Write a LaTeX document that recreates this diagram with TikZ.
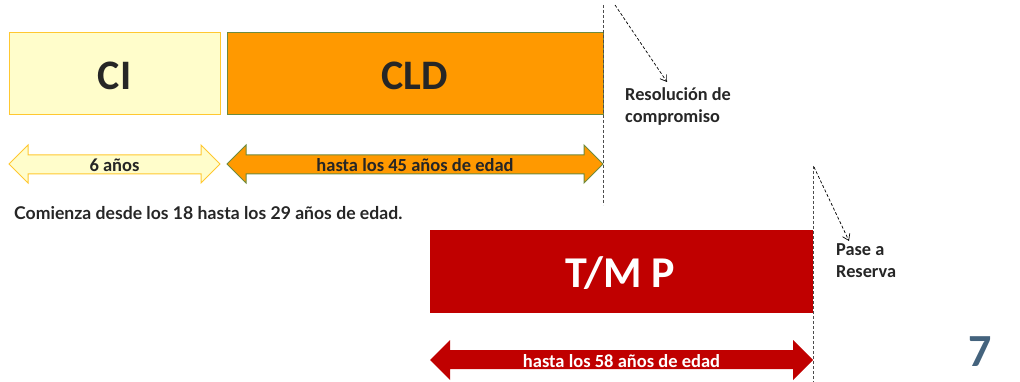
\documentclass[tikz,border=0pt]{standalone}
\usepackage{fontspec}
\setmainfont{Carlito}
\newfontfamily\latofont{Lato}
\usetikzlibrary{arrows.meta}
\definecolor{ciFill}{HTML}{FFFDCB}
\definecolor{ciLine}{HTML}{FFC830}
\definecolor{cldFill}{HTML}{FF9900}
\definecolor{cldLine}{HTML}{6E8B3D}
\definecolor{tmpFill}{HTML}{C00000}
\definecolor{txt}{HTML}{262626}
\definecolor{sevenc}{HTML}{44637D}
\tikzset{
  bigtxt/.style={font=\fontsize{42}{44}\selectfont\bfseries, text=txt},
  lbl/.style={font=\fontsize{18.5}{19}\selectfont\bfseries, text=txt},
  sidetxt/.style={font=\fontsize{18.3}{22}\selectfont\bfseries, text=txt, align=left, anchor=north west, inner sep=0pt},
  vdash/.style={draw=black!70, dash pattern=on 3pt off 2pt, line width=0.9pt},
  pointer/.style={draw=black, dash pattern=on 3pt off 2pt, line width=0.7pt, -{Straight Barb[length=6pt,width=8pt]}},
}
\begin{document}
\begin{tikzpicture}[x=1pt,y=-1pt]
\useasboundingbox (0,0) rectangle (1020,382);
% boxes
\draw[ciLine, fill=ciFill, line width=1pt] (9,33) rectangle (220,115);
\node[bigtxt] (ci) at (114.5,76) {CI};
\draw[cldLine, fill=cldFill, line width=1pt] (227,33) rectangle (603,115);
\node[bigtxt] (cld) at (415,76) {CLD};
\fill[tmpFill] (430,230) rectangle (813,313);
\node[bigtxt, text=white, font=\fontsize{44}{46}\selectfont\bfseries] (tmp) at (620,273) {T/M P};
% double arrows
\draw[ciLine, fill=ciFill, line width=1pt] (9,164) -- (28,145) -- (28,155) -- (201,155) -- (201,145) -- (220,164) -- (201,183) -- (201,174) -- (28,174) -- (28,183) -- cycle;
\node[lbl] (ciarr) at (114.5,165) {6 años};
\draw[cldLine, fill=cldFill, line width=1pt] (227,164) -- (246,145) -- (246,155) -- (584,155) -- (584,145) -- (603,164) -- (584,183) -- (584,174) -- (246,174) -- (246,183) -- cycle;
\node[lbl] (cldarr) at (415,165) {hasta los 45 años de edad};
\fill[tmpFill] (430,360) -- (450,340) -- (450,350) -- (793,350) -- (793,340) -- (813,360) -- (793,380) -- (793,369) -- (450,369) -- (450,380) -- cycle;
\node[lbl, text=white] (tmparr) at (621.5,361) {hasta los 58 años de edad};
% dashed verticals
\coordinate (d1t) at (603,5);
\coordinate (d1b) at (603,205);
\draw[vdash] (d1t) -- (d1b);
\coordinate (d2t) at (813,166);
\coordinate (d2b) at (813,382);
\draw[vdash] (d2t) -- (d2b);
% pointers
\coordinate (p1s) at (615,5);
\coordinate (p1e) at (667,82);
\draw[pointer] (p1s) -- (p1e);
\coordinate (p2s) at (814,167);
\coordinate (p2e) at (849,241);
\draw[pointer] (p2s) -- (p2e);
% side texts
\node[sidetxt] (res) at (625,87) {Resolución de\\compromiso};
\node[sidetxt] (pase) at (836,243) {Pase a\\Reserva};
\node[anchor=west, inner sep=0pt, font=\latofont\fontsize{17.6}{18}\selectfont\bfseries, text=txt] (com) at (14,213) {Comienza desde los 18 hasta los 29 años de edad.};
\node[font=\fontsize{46}{48}\selectfont\bfseries, text=sevenc, inner sep=0pt] (seven) at (980,352) {7};
\end{tikzpicture}
\end{document}
